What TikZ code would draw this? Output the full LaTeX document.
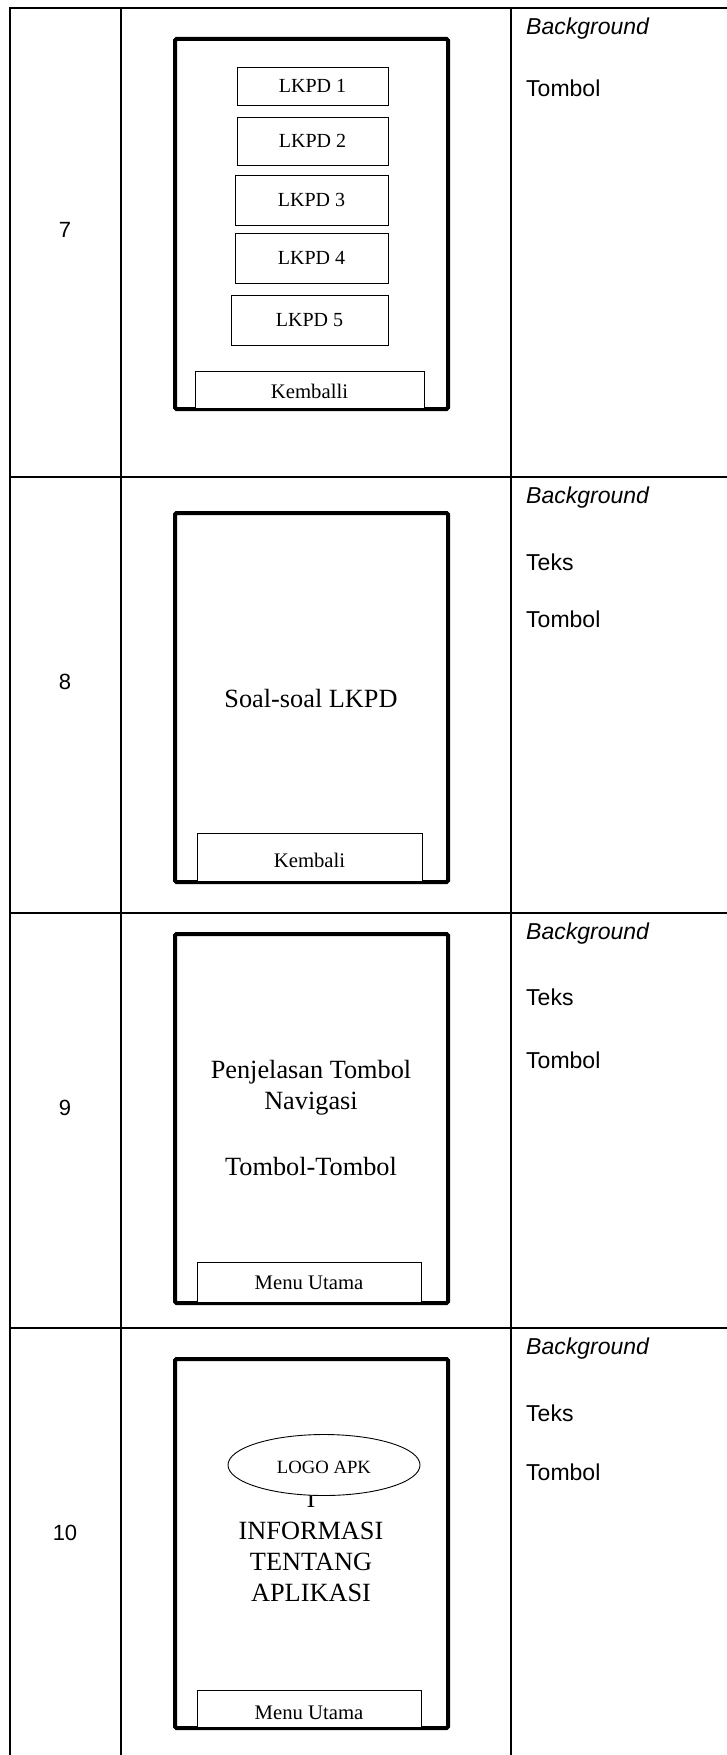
\documentclass[tikz,border=0pt]{standalone}
\usepackage{fontspec}
\setmainfont{Liberation Serif}
\newfontfamily\lblfont{Liberation Sans}
\usetikzlibrary{shapes.geometric}
\tikzset{
  grid/.style={line width=2pt},
  phone/.style={draw, line width=4pt, rounded corners=1.5pt},
  btn/.style={draw, line width=0.9pt, fill=white, inner sep=0pt},
  mock/.style={font=\fontsize{20}{23}\selectfont},
  bmock/.style={font=\fontsize{20.7}{24}\selectfont},
  big/.style={font=\fontsize{26.3}{31}\selectfont, align=center},
  lbl/.style={anchor=west, inner sep=0pt, font=\lblfont\fontsize{23}{27}\selectfont},
  num/.style={inner sep=0pt, font=\lblfont\fontsize{22}{26}\selectfont}
}
\begin{document}
\begin{tikzpicture}[x=1pt,y=-1pt]
\useasboundingbox (0,0) rectangle (727,1755);
% table grid
\draw[grid] (10,1756) -- (10,8) -- (728,8);
\draw[grid] (120.5,8) -- (120.5,1756);
\draw[grid] (511,8) -- (511,1756);
\draw[grid] (10,477) -- (728,477);
\draw[grid] (10,913) -- (728,913);
\draw[grid] (10,1328) -- (728,1328);

% row numbers
\node[num] (n7) at (65,230) {7};
\node[num] (n8) at (65,682) {8};
\node[num] (n9) at (65,1108) {9};
\node[num] (n10) at (65,1533) {10};

% right column labels
\node[lbl] (b7) at (526,29) {\itshape Background};
\node[lbl] (t7) at (526,88) {Tombol};
\node[lbl] (b8) at (526,498) {\itshape Background};
\node[lbl] (x8) at (526,562) {Teks};
\node[lbl] (t8) at (526,619) {Tombol};
\node[lbl] (b9) at (526,934) {\itshape Background};
\node[lbl] (x9) at (526,997) {Teks};
\node[lbl] (t9) at (526,1060) {Tombol};
\node[lbl] (b10) at (526,1349) {\itshape Background};
\node[lbl] (x10) at (526,1413) {Teks};
\node[lbl] (t10) at (526,1472) {Tombol};

% row 7 mockup
\draw[phone] (175,39) rectangle (448,409);
\draw[btn] (237,67) rectangle (388,105);
\node[mock] (l1) at (312.5,86) {LKPD 1};
\draw[btn] (237,117) rectangle (388,165);
\node[mock] (l2) at (312.5,141) {LKPD 2};
\draw[btn] (235,175) rectangle (388,225);
\node[mock] (l3) at (311.5,200) {LKPD 3};
\draw[btn] (235,233) rectangle (388,283);
\node[mock] (l4) at (311.5,258) {LKPD 4};
\draw[btn] (231,295) rectangle (388,345);
\node[mock] (l5) at (309.5,320) {LKPD 5};
\draw[btn] (195,371) rectangle (424,408);
\node[bmock] (k7) at (309.5,391) {Kemballi};

% row 8 mockup
\draw[phone] (175,513) rectangle (448,882);
\node[big] (s8) at (311,698) {Soal-soal LKPD};
\draw[btn] (197,833) rectangle (422,881);
\node[bmock] (k8) at (309.5,860) {Kembali};

% row 9 mockup
\draw[phone] (175,934) rectangle (448,1303);
\node[big] (s9) at (311,1088) {Penjelasan Tombol\\Navigasi};
\node[big] (s9b) at (311,1166) {Tombol-Tombol};
\draw[btn] (197,1262) rectangle (421,1302);
\node[bmock] (m9) at (309,1283) {Menu Utama};

% row 10 mockup
\draw[phone] (175,1359) rectangle (448,1728);
\node[big] (i10) at (311,1499) {I};
\node[draw, ellipse, line width=0.9pt, fill=white, minimum width=192pt, minimum height=61pt, inner sep=0pt] (logo) at (324,1465) {};
\node[mock, font=\fontsize{18.7}{22}\selectfont] (lg) at (324,1467) {LOGO APK};
\node[big] (s10) at (311,1562) {INFORMASI\\TENTANG\\APLIKASI};
\draw[btn] (197,1690) rectangle (421,1727);
\node[bmock] (m10) at (309,1713) {Menu Utama};
\end{tikzpicture}
\end{document}
